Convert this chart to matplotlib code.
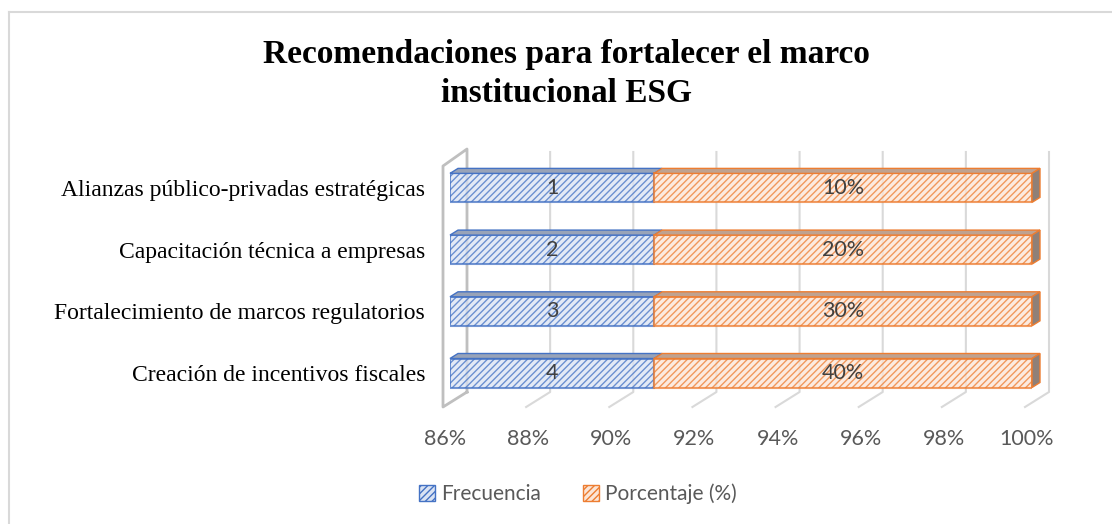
import matplotlib.pyplot as plt
from matplotlib.patches import Polygon, Patch
from matplotlib.lines import Line2D
from matplotlib.transforms import ScaledTranslation

categorias = ['Creación de incentivos fiscales',
              'Fortalecimiento de marcos regulatorios',
              'Capacitación técnica a empresas',
              'Alianzas público-privadas estratégicas']
frecuencia = [4, 3, 2, 1]
porcentaje = [0.40, 0.30, 0.20, 0.10]
etiquetas_pct = ['40%', '30%', '20%', '10%']
ticks = [86, 88, 90, 92, 94, 96, 98, 100]
titulo = 'Recomendaciones para fortalecer el marco\ninstitucional ESG'

azul, azul_claro, azul_top = '#4472C4', '#DAE3F3', '#98A3B8'
naranja, naranja_claro, naranja_top, naranja_lado = '#ED7D31', '#FBE5D6', '#BFA290', '#8F8078'

plt.rcParams['hatch.linewidth'] = 1.0

W, H = 1112, 524
fig = plt.figure(figsize=(W / 100, H / 100), dpi=100)
# ejes en pixeles: x 450..1032, y 150..400 (desde arriba)
ax = fig.add_axes([450 / W, (H - 400) / H, 582 / W, 250 / H])
xmin, xmax = ticks[0], ticks[-1]
ppx = 582 / (xmax - xmin)   # pixeles por punto porcentual
ppy = 61.7                  # pixeles por categoria
ax.set_xlim(xmin, xmax)
ax.set_ylim(-27 / ppy, 223 / ppy)
for s in ax.spines.values():
    s.set_visible(False)


def px(dx, dy):
    return dx / ppx, dy / ppy


# pared lateral, piso y lineas de cuadricula con efecto 3D
top_y, back_y, front_y = 223 / ppy - 2 / ppy, -19 / ppy, -34 / ppy
bdx, _ = px(17, 0)
fdx, _ = px(-7, 0)
for t in ticks:
    if t == xmin:
        continue
    ax.plot([t + bdx, t + bdx, t + fdx], [top_y, back_y, front_y],
            color='#D9D9D9', lw=1.5, clip_on=False, zorder=1)
wall_top_front = top_y - 17 / ppy
ax.plot([xmin + bdx, xmin + bdx, xmin + fdx, xmin + fdx, xmin + bdx],
        [back_y, top_y + 3 / ppy, wall_top_front + 3 / ppy, front_y, back_y],
        color='#BFBFBF', lw=2, clip_on=False, zorder=1)

# barras apiladas al 100%
alto = 29 / ppy
ddx, ddy = px(8, 5)
y = list(range(len(categorias)))
share = [f / (f + p) * 100 for f, p in zip(frecuencia, porcentaje)]
for i in y:
    yb, yt = i - alto / 2, i + alto / 2
    segs = [(xmin, share[i], azul, azul_claro, azul_top, str(frecuencia[i])),
            (share[i], xmax, naranja, naranja_claro, naranja_top, etiquetas_pct[i])]
    for x0, x1, ec, fc, tc, lab in segs:
        ax.barh(i, x1 - x0, left=x0, height=alto, color=fc, alpha=0.75,
                edgecolor=ec, hatch='/////', lw=1.5, zorder=3)
        ax.add_patch(Polygon([(x0, yt), (x1, yt), (x1 + ddx, yt + ddy), (x0 + ddx, yt + ddy)],
                             closed=True, facecolor=tc, edgecolor=ec, lw=1,
                             clip_on=False, zorder=3))
        ax.text((x0 + x1) / 2, i, lab, ha='center', va='center',
                fontsize=15.5, color='#404040', family='Lato', zorder=5)
    ax.add_patch(Polygon([(xmax, yb), (xmax, yt), (xmax + ddx, yt + ddy), (xmax + ddx, yb + ddy)],
                         closed=True, facecolor=naranja_lado, edgecolor=naranja, lw=1,
                         clip_on=False, zorder=3))

ax.set_yticks(y, categorias, family='Liberation Serif', fontsize=17, color='black')
ax.set_xticks(ticks, [f'{t}%' for t in ticks], family='Lato', fontsize=15.5, color='#595959')
ax.tick_params(axis='y', length=0, pad=18)
ax.tick_params(axis='x', length=0, pad=21)
for lbl in ax.get_xticklabels():
    lbl.set_transform(lbl.get_transform() + ScaledTranslation(-5 / 100, 0, fig.dpi_scale_trans))

fig.text(566 / W, 1 - 74 / H, titulo, ha='center', va='center', family='Liberation Serif',
         fontweight='bold', fontsize=24, linespacing=1.3)

handles = [Patch(facecolor=azul_claro, edgecolor=azul, hatch='/////', label='Frecuencia'),
           Patch(facecolor=naranja_claro, edgecolor=naranja, hatch='/////', label='Porcentaje (%)')]
fig.legend(handles=handles, loc='center', bbox_to_anchor=(578 / W, 1 - 494 / H), ncol=2,
           frameon=False, prop={'family': 'Lato', 'size': 15}, labelcolor='#595959',
           handlelength=0.75, handleheight=0.75, handletextpad=0.3, columnspacing=2.0)

# borde del grafico
fig.add_artist(Line2D([9 / W, 1], [1 - 12 / H, 1 - 12 / H], color='#D9D9D9', lw=1.5))
fig.add_artist(Line2D([9 / W, 9 / W], [0, 1 - 12 / H], color='#D9D9D9', lw=1.5))

fig.savefig('out.png', dpi=100)
